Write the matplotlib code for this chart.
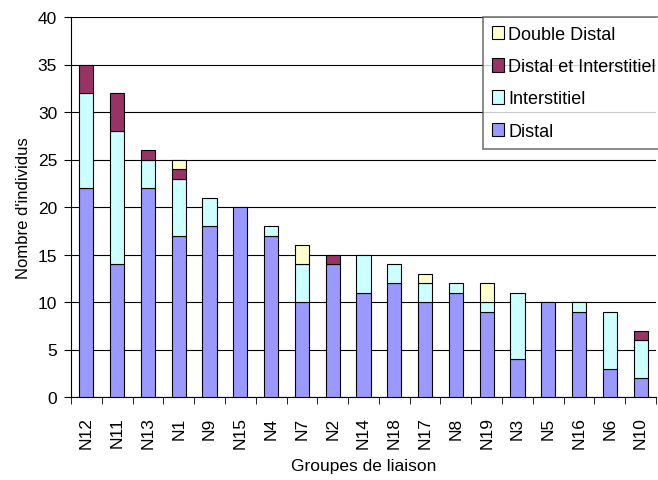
import matplotlib
matplotlib.use("Agg")
import matplotlib.pyplot as plt
import numpy as np

plt.rcParams['font.family'] = ['Liberation Sans', 'DejaVu Sans']

groupes = ["N12", "N11", "N13", "N1", "N9", "N15", "N4", "N7", "N2", "N14",
           "N18", "N17", "N8", "N19", "N3", "N5", "N16", "N6", "N10"]
distal = [22, 14, 22, 17, 18, 20, 17, 10, 14, 11, 12, 10, 11, 9, 4, 10, 9, 3, 2]
interstitiel = [10, 14, 3, 6, 3, 0, 1, 4, 0, 4, 2, 2, 1, 1, 7, 0, 1, 6, 4]
distal_inter = [3, 4, 1, 1, 0, 0, 0, 0, 1, 0, 0, 0, 0, 0, 0, 0, 0, 0, 1]
double_distal = [0, 0, 0, 1, 0, 0, 0, 2, 0, 0, 0, 1, 0, 2, 0, 0, 0, 0, 0]

series = [
    ("Distal", distal, "#9999FF"),
    ("Interstitiel", interstitiel, "#CCFFFF"),
    ("Distal et Interstitiel", distal_inter, "#993366"),
    ("Double Distal", double_distal, "#FFFFCC"),
]

fig = plt.figure(figsize=(6.58, 4.81), dpi=100)
ax = fig.add_axes([71/658, 1-398/481, (656-71)/658, (398-18)/481])

x = np.arange(len(groupes))
bottom = np.zeros(len(groupes))
handles = []
for name, vals, col in series:
    vals = np.array(vals, dtype=float)
    mask = vals > 0
    b = ax.bar(x[mask], vals[mask], bottom=bottom[mask], width=0.46,
               color=col, edgecolor='black', linewidth=0.8, zorder=3, label=name)
    handles.append(b)
    bottom += vals

ax.set_xlim(-0.5, len(groupes) - 0.5)
ax.set_ylim(0, 40)
ax.set_yticks(range(0, 41, 5))
ax.yaxis.grid(True, color='black', linewidth=0.8, zorder=0)
ax.set_xticks(x)
ax.set_xticklabels(groupes, rotation=90, fontsize=12.5)
ax.set_xticks(np.arange(-0.5, len(groupes)), minor=True)
ax.tick_params(axis='x', which='major', length=0, pad=14)
ax.tick_params(axis='x', which='minor', length=5, direction='out')
ax.tick_params(axis='y', labelsize=12.5, length=5, direction='out', pad=5)

for s in ['top', 'right']:
    ax.spines[s].set_visible(False)
ax.spines['left'].set_linewidth(0.8)
ax.spines['bottom'].set_linewidth(0.8)

ax.set_ylabel("Nombre d'individus", fontsize=12)
ax.set_xlabel("Groupes de liaison", fontsize=12.5)
ax.yaxis.set_label_coords(-40/585, 0.5)
ax.xaxis.set_label_coords(0.5, -61/380)

leg = ax.legend(handles[::-1], [s[0] for s in series][::-1],
                loc='upper right', bbox_to_anchor=(1.015, 1.0), fontsize=13,
                frameon=True, fancybox=False, edgecolor='#555555',
                handlelength=0.65, handleheight=0.75, handletextpad=0.25,
                labelspacing=0.84, borderaxespad=0, borderpad=0.5)
leg.get_frame().set_linewidth(1.2)
leg.set_zorder(5)

fig.savefig("out.png", dpi=100)
